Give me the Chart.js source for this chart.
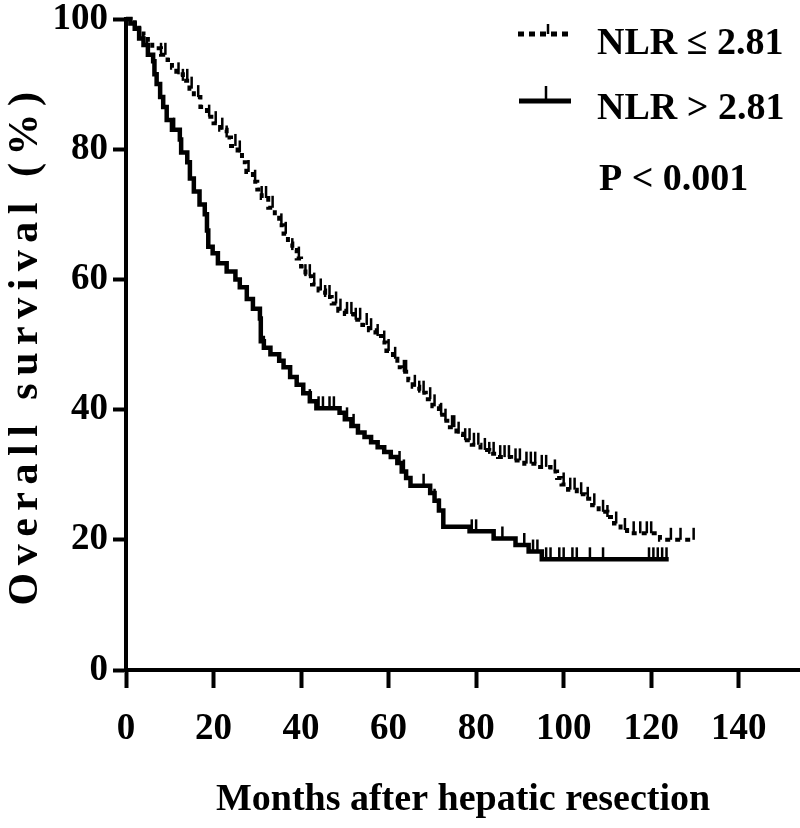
<!DOCTYPE html>
<html>
<head>
<meta charset="utf-8">
<script src="https://cdn.jsdelivr.net/npm/chart.js@4.4.0/dist/chart.umd.min.js"></script>
<style>
  html, body { margin: 0; padding: 0; background: #fff; }
  #wrap { width: 800px; height: 828px; }
</style>
</head>
<body>
<div id="wrap"><canvas id="canvas"></canvas></div>
<script>
// Kaplan-Meier steps: months after resection, % alive
let lowMonths = [0, 1, 2, 3, 4, 5, 6, 8, 9.5, 10.5, 11.5, 13, 14.5, 15.5, 17, 18.5, 20, 21.5, 23, 24,
  25.5, 26.5, 27.5, 29, 30, 31, 32.5, 34, 35, 36, 37, 38, 39, 40, 41, 42.5, 44, 45.5, 47, 48.5,
  50, 52, 54, 55.5, 57, 58.5, 59.5, 61, 62, 63, 64.5, 65.5, 67, 68.5, 70, 71.5, 72.5, 74, 75.5, 77,
  79, 81, 83, 85, 88, 91, 94, 97, 98.5, 99.5, 101, 103, 105, 106.5, 108, 110, 111.5, 113, 114.5, 122, 130];
let lowSurv = [100, 99.5, 99, 98.2, 97.5, 96.5, 95.5, 94.5, 93.7, 92.5, 91.5, 90.5, 89.3, 88, 86.5, 85, 84, 83, 81.8, 80.5,
  79.5, 78, 76.5, 75, 73.8, 72.5, 71, 69.8, 68.3, 67, 65.5, 64.5, 63.2, 62, 60.5, 59.2, 58.3, 57.3, 56.3, 55.2,
  54.7, 53.8, 53, 52.2, 51.3, 50.3, 49, 47.8, 46.5, 45.8, 44.5, 43.5, 42.6, 41.6, 40.5, 39.2, 38.3, 37.3, 36.3, 35.3,
  34.6, 33.8, 33.2, 32.7, 32.2, 31.7, 31.2, 30.5, 29.5, 28.5, 27.7, 27, 26.3, 25.3, 24.3, 23.5, 22.5, 21.5, 21, 20, 20];
let lowCensor = [8, 9, 12, 13, 14, 15, 16.5, 19, 20.5, 22, 23, 25, 26, 28, 29.5, 31, 32, 33.5, 35.5, 36.5,
  38, 39.5, 41, 42, 43, 44.5, 45.5, 46.5, 48, 49, 50.5, 51.5, 52.5, 53.5, 55, 56, 57.5, 59, 60, 61.5,
  63.5, 64, 66, 67, 68, 69.5, 70.5, 72, 73, 74.5, 75, 76, 77.5, 78.5, 79.5, 80.5, 82, 83, 84, 85.5,
  86.5, 87.5, 89, 90, 91.5, 92.5, 93.5, 95, 96, 98, 100, 101.5, 102.5, 104, 105.5, 107, 109, 110, 112, 114,
  116, 117.5, 119, 120, 124.5, 126.7, 129.7];

let highMonths = [0, 1, 2, 3, 4, 5, 6.2, 6.5, 7, 7.8, 8.5, 9.3, 10.5, 12.3, 12.6, 14, 14.6, 15.5, 16.8, 18,
  18.5, 18.8, 19.8, 21, 23, 25, 26, 27.6, 29, 30.6, 30.8, 31.5, 33, 35, 36, 37.5, 39, 40.5, 42, 43.5,
  48.8, 50, 51.5, 53, 54.5, 56, 57.5, 59, 60.5, 62, 63, 64, 65, 69.5, 70.5, 71.5, 72.5, 78.5, 84, 89,
  92, 95, 124];
let highSurv = [100, 99.3, 98.5, 97, 96, 94.5, 93.5, 91.5, 90, 88, 86.5, 84.5, 83, 81.5, 79.5, 78, 75.5, 73.5, 71.5, 70,
  67.5, 65, 64, 62.5, 61.2, 60, 58.8, 57, 55.5, 54, 50.5, 49.5, 48.5, 47.5, 46.5, 45, 43.8, 42.5, 41.3, 40.2,
  39.5, 38.5, 37.5, 36.5, 35.8, 35, 34.2, 33.5, 32.7, 31.8, 30.5, 29.5, 28.3, 27.2, 26, 24.5, 22, 21.3, 20.2, 19.2,
  18.2, 17, 17];
let highCensor = [11, 21, 31.5, 42, 44, 45, 46.5, 47.5, 50.5, 52, 62.5, 63.5, 68, 70.5, 71.5, 79, 80, 86, 91, 93,
  94, 96, 97, 99, 100, 102, 103, 106, 109, 119.5, 120.5, 121.5, 122.5, 123.5];

let xTicks = [0, 20, 40, 60, 80, 100, 120, 140];
let yTicks = [0, 20, 40, 60, 80, 100];
let labels = ['NLR \u2264 2.81', 'NLR > 2.81'];
let pText = 'P < 0.001';
let xTitle = 'Months after hepatic resection';
let yTitle = 'Overall survival (%)';

const serif = '"Liberation Serif", "Times New Roman", serif';

function steps(months, surv) {
  return months.map((m, i) => ({ x: m, y: surv[i] }));
}

// a censor mark sits on the curve at the value in force at that month
function censored(months, surv, times) {
  return times.map(t => {
    let y = surv[0];
    for (let i = 0; i < months.length; i++) {
      if (months[i] <= t) y = surv[i];
    }
    return { x: t, y: y };
  });
}

let lineStyle = {
  type: 'line',
  stepped: true,
  borderColor: '#000',
  pointRadius: 0,
  fill: false,
  clip: false
};

let tickStyle = {
  type: 'scatter',
  showLine: false,
  pointStyle: 'dash',
  rotation: -90,
  pointRadius: 12,
  pointBorderWidth: 2.5,
  pointBorderColor: '#000',
  pointBackgroundColor: '#000',
  clip: false
};

// legend block and rotated y title (letter spaced like the original)
const kmLegend = {
  id: 'kmLegend',
  afterDraw(chart) {
    const ctx = chart.ctx;
    ctx.save();
    ctx.strokeStyle = '#000';
    ctx.fillStyle = '#000';

    ctx.lineWidth = 5;
    ctx.setLineDash([6, 5]);
    ctx.beginPath(); ctx.moveTo(518, 34); ctx.lineTo(572, 34); ctx.stroke();
    ctx.setLineDash([]);
    ctx.lineWidth = 2.5;
    ctx.beginPath(); ctx.moveTo(548, 34); ctx.lineTo(548, 24); ctx.stroke();

    ctx.lineWidth = 5;
    ctx.beginPath(); ctx.moveTo(519, 101); ctx.lineTo(571, 101); ctx.stroke();
    ctx.lineWidth = 2.5;
    ctx.beginPath(); ctx.moveTo(546, 101); ctx.lineTo(546, 86); ctx.stroke();

    ctx.font = 'bold 38px ' + serif;
    ctx.textBaseline = 'alphabetic';
    ctx.textAlign = 'left';
    ctx.fillText(labels[0], 597, 54);
    ctx.fillText(labels[1], 597, 119);
    ctx.fillText(pText, 599, 190);

    ctx.translate(37, 345);
    ctx.rotate(-Math.PI / 2);
    ctx.textAlign = 'center';
    ctx.letterSpacing = '7.5px';
    ctx.font = 'bold 42px ' + serif;
    ctx.fillText(yTitle, 0, 0);
    ctx.restore();
  }
};

let options = {
  data: {
    datasets: [
      Object.assign({ label: labels[0], data: steps(lowMonths, lowSurv), borderWidth: 4, borderDash: [5, 5] }, lineStyle),
      Object.assign({ label: labels[1], data: steps(highMonths, highSurv), borderWidth: 4.5 }, lineStyle),
      Object.assign({ label: 'censored low', data: censored(lowMonths, lowSurv, lowCensor) }, tickStyle),
      Object.assign({ label: 'censored high', data: censored(highMonths, highSurv, highCensor) }, tickStyle)
    ]
  },
  options: {
    responsive: true,
    maintainAspectRatio: false,
    animation: false,
    layout: { autoPadding: false, padding: { top: 19, right: 0, left: 0, bottom: 0 } },
    plugins: {
      legend: { display: false },
      tooltip: { enabled: false }
    },
    scales: {
      x: {
        type: 'linear',
        min: 0,
        max: 154,
        afterBuildTicks: s => { s.ticks = xTicks.map(v => ({ value: v })); },
        afterFit: s => { s.height = 158; s.paddingLeft = 0; s.paddingRight = 0; },
        grid: { drawOnChartArea: false, drawTicks: true, tickLength: 18, tickWidth: 4, tickColor: '#000' },
        border: { display: true, color: '#000', width: 4 },
        ticks: { color: '#000', padding: 19, maxRotation: 0, font: { family: serif, size: 37, weight: 'bold' } },
        title: { display: true, text: xTitle, color: '#000', padding: { top: 0, bottom: 5 }, font: { family: serif, size: 38, weight: 'bold' } }
      },
      y: {
        min: 0,
        max: 100,
        afterBuildTicks: s => { s.ticks = yTicks.map(v => ({ value: v })); },
        afterFit: s => { s.width = 126; s.paddingTop = 0; s.paddingBottom = 0; },
        grid: { drawOnChartArea: false, drawTicks: true, tickLength: 13, tickWidth: 4, tickColor: '#000' },
        border: { display: true, color: '#000', width: 4 },
        ticks: { color: '#000', padding: 5, font: { family: serif, size: 37, weight: 'bold' } }
      }
    }
  },
  plugins: [kmLegend]
};

let chart = new Chart(document.getElementById('canvas'), options);
</script>
</body>
</html>
